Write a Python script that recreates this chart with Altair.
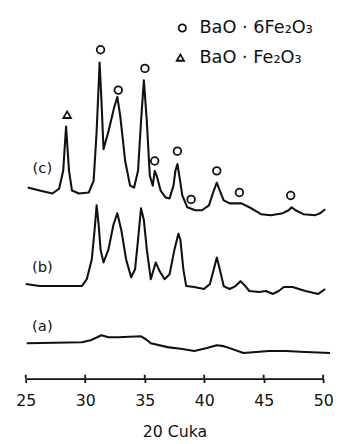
import altair as alt
import pandas as pd

# Curve (c)
c_x = [25.17, 26.16, 27.24, 27.81, 28.15, 28.39, 28.64, 28.89, 29.47, 30.30, 30.71, 30.96, 31.21, 31.37,
       31.54, 31.95, 32.45, 32.70, 32.95, 33.36, 33.77, 34.11, 34.44, 34.69, 34.93, 35.18, 35.43, 35.68,
       35.84, 36.01, 36.34, 36.75, 37.09, 37.42, 37.58, 37.75, 37.91, 38.16, 38.58, 39.24, 39.82, 40.40,
       40.81, 41.06, 41.31, 41.64, 42.14, 43.13, 43.96, 44.78, 45.61, 46.61, 47.10, 47.35, 47.68, 48.34,
       49.34, 49.75, 50.17]
c_y = [194, 191, 188, 193, 211, 256, 211, 191, 188, 189, 201, 251, 321, 281,
       233, 251, 276, 286, 266, 221, 196, 194, 211, 261, 303, 261, 206, 196,
       211, 206, 191, 184, 183, 196, 211, 218, 206, 186, 174, 171, 171, 176,
       191, 199, 191, 181, 178, 178, 173, 167, 166, 168, 171, 174, 171, 167,
       166, 168, 172]

# Curve (b)
b_x = [25.0, 26.16, 27.24, 28.64, 29.72, 30.13, 30.55, 30.79, 30.96, 31.13, 31.29, 31.54, 31.95, 32.37,
       32.70, 33.03, 33.44, 33.86, 34.19, 34.44, 34.69, 34.93, 35.18, 35.51, 35.76, 35.93, 36.26, 36.67,
       37.09, 37.50, 37.83, 38.00, 38.25, 38.49, 39.16, 39.98, 40.48, 40.81, 41.06, 41.31, 41.64, 42.14,
       42.63, 43.05, 43.46, 43.79, 44.62, 45.20, 45.78, 46.27, 46.69, 47.43, 48.51, 49.59, 50.17]
b_y = [96, 94, 94, 94, 94, 101, 121, 151, 176, 156, 131, 118, 131, 156,
       168, 151, 121, 103, 111, 141, 173, 161, 131, 101, 111, 118, 109, 101,
       106, 131, 147, 141, 111, 94, 93, 91, 96, 111, 123, 111, 94, 91,
       94, 99, 94, 89, 88, 89, 86, 89, 93, 93, 89, 86, 91]

# Curve (a)
a_x = [25.08, 29.72, 30.46, 31.37, 31.95, 32.78, 34.69, 35.10, 35.51, 36.92, 38.16, 39.16, 40.23, 41.06,
       41.64, 42.14, 43.30, 44.37, 45.45, 46.85, 48.51, 50.58]
a_y = [36, 37, 39, 44, 42, 42, 43, 40, 36, 32, 30, 28, 31, 34,
       33, 31, 26, 27, 28, 28, 27, 26]

# Peak markers
circ_x = [31.29, 32.78, 35.02, 35.84, 37.75, 38.9, 41.06, 42.96, 47.27]
circ_y = [334, 293, 315, 221, 231, 182, 211, 189, 186]
tri_x = [28.48]
tri_y = [268]

# Curve labels
lab_text = ["(c)", "(b)", "(a)"]
lab_x = [26.4, 26.4, 26.4]
lab_y = [214, 113, 53]

# Legend
leg_txt = ["BaO · 6Fe₂O₃", "BaO · Fe₂O₃"]
leg_shape = ["circle", "triangle-up"]
leg_mx = [38.16, 38.0]
leg_tx = [39.6, 39.6]
leg_y = [356, 326]

tick_vals = [25, 30, 35, 40, 45, 50]

W, H = 302, 369

curves = pd.concat([
    pd.DataFrame({"t": c_x, "v": c_y, "s": "c", "o": range(len(c_x))}),
    pd.DataFrame({"t": b_x, "v": b_y, "s": "b", "o": range(len(b_x))}),
    pd.DataFrame({"t": a_x, "v": a_y, "s": "a", "o": range(len(a_x))}),
])

xs = alt.Scale(domain=[25, 50], nice=False, zero=False)
ys = alt.Scale(domain=[0, H], nice=False, zero=False)

xaxis = alt.Axis(values=tick_vals, title="20 Cuka", grid=False,
                 domainColor="#111", domainWidth=1.8, tickColor="#111", tickWidth=1.8,
                 tickSize=4, labelFont="DejaVu Sans", labelFontSize=16, labelColor="#111",
                 labelPadding=10, titleFont="DejaVu Sans", titleFontSize=16,
                 titleFontWeight="normal", titleColor="#111", titlePadding=16,
                 labelFlush=False)


def X(field="t"):
    return alt.X(f"{field}:Q", scale=xs, axis=xaxis, title="20 Cuka")


Y = alt.Y("v:Q", scale=ys, axis=None)

lines = alt.Chart(curves).mark_line(color="#111", strokeWidth=2.1, interpolate="linear",
                                    strokeJoin="round").encode(
    x=X(), y=Y, detail="s:N", order="o:Q")

up_ticks = alt.Chart(pd.DataFrame({"t": tick_vals})).mark_rule(color="#111", strokeWidth=1.8).encode(
    x=X(), y=alt.value(H - 4), y2=alt.value(H))

circles = alt.Chart(pd.DataFrame({"t": circ_x, "v": circ_y})).mark_point(
    shape="circle", size=60, color="#111", strokeWidth=1.8, filled=False, opacity=1).encode(x=X(), y=Y)

tris = alt.Chart(pd.DataFrame({"t": tri_x, "v": tri_y})).mark_point(
    shape="triangle-up", size=60, color="#111", strokeWidth=1.8, filled=False, opacity=1).encode(x=X(), y=Y)

labels = alt.Chart(pd.DataFrame({"t": lab_x, "v": lab_y, "l": lab_text})).mark_text(
    font="DejaVu Sans", fontSize=15, color="#111").encode(x=X(), y=Y, text="l:N")

leg_df = pd.DataFrame({"l": leg_txt, "sh": leg_shape, "t": leg_mx, "tx": leg_tx, "v": leg_y})

leg_marks = alt.Chart(leg_df).mark_point(size=55, color="#111", strokeWidth=1.8, filled=False,
                                         opacity=1).encode(
    x=X(), y=Y,
    shape=alt.Shape("sh:N", scale=alt.Scale(domain=leg_shape, range=leg_shape), legend=None))
leg_text = alt.Chart(leg_df).mark_text(font="DejaVu Sans", fontSize=18, color="#111",
                                       align="left", baseline="middle").encode(
    x=X("tx"), y=Y, text="l:N")

chart = alt.layer(lines, up_ticks, circles, tris, labels, leg_marks, leg_text).properties(
    width=W, height=H,
    autosize=alt.AutoSizeParams(type="none"),
    padding={"left": 18, "top": 4, "right": 10, "bottom": 62},
).configure_view(stroke=None)

chart.save("out.html", embed_options={"renderer": "svg", "actions": False})
